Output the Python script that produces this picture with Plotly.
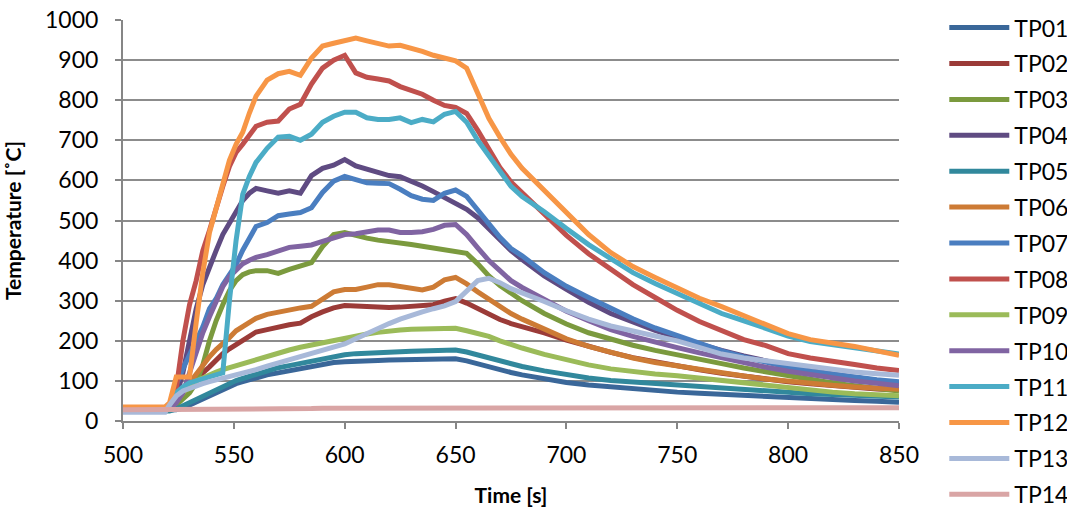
import plotly.graph_objects as go

# Sample times (s)
time_s = [500, 519, 521, 524, 527, 530, 533, 536, 539, 542,
          545, 548, 551, 554, 557, 560, 565, 570, 575, 580,
          585, 590, 595, 600, 605, 610, 615, 620, 625, 630,
          635, 640, 645, 650, 655, 660, 665, 670, 675, 680,
          690, 700, 710, 720, 730, 740, 750, 760, 770, 780,
          790, 800, 810, 820, 830, 840, 850]

# Thermocouple readings (degC)
tp01 = [25, 25, 25, 28, 32, 40, 48, 56, 64, 72,
        80, 87, 93, 98, 103, 108, 115, 120, 125, 132,
        138, 143, 146, 148, 148, 150, 151, 152, 152, 153,
        153, 153, 154, 155, 150, 142, 136, 128, 121, 115,
        105, 96, 90, 85, 80, 76, 72, 69, 66, 63,
        60, 57, 55, 53, 51, 49, 47]
tp02 = [30, 30, 32, 45, 60, 80, 100, 120, 135, 152,
        168, 180, 190, 200, 210, 222, 228, 235, 240, 244,
        260, 272, 282, 288, 286, 284, 283, 283, 284, 285,
        286, 290, 299, 305, 294, 280, 265, 253, 243, 236,
        220, 202, 186, 171, 158, 147, 138, 128, 119, 111,
        104, 98, 93, 88, 84, 80, 77]
tp03 = [25, 25, 28, 40, 55, 70, 95, 140, 200, 250,
        290, 325, 350, 365, 372, 375, 375, 368, 378, 385,
        395, 435, 465, 470, 462, 456, 451, 448, 446, 440,
        436, 432, 426, 424, 418, 392, 362, 338, 318, 300,
        268, 242, 220, 203, 189, 176, 166, 154, 143, 132,
        122, 112, 103, 95, 88, 81, 75]
tp04 = [25, 25, 30, 60, 120, 200, 280, 340, 385, 425,
        465, 492, 520, 550, 568, 580, 574, 568, 574, 568,
        612, 630, 638, 652, 636, 628, 618, 612, 609, 598,
        586, 572, 558, 545, 528, 507, 479, 452, 425, 403,
        362, 328, 296, 268, 246, 226, 208, 191, 176, 162,
        149, 137, 126, 117, 108, 100, 93]
tp05 = [25, 25, 25, 30, 38, 46, 55, 63, 72, 80,
        88, 95, 101, 106, 111, 116, 125, 133, 138, 144,
        150, 155, 160, 165, 168, 170, 171, 172, 173, 174,
        175, 174, 175, 177, 172, 165, 157, 150, 142, 136,
        125, 115, 107, 101, 97, 94, 91, 87, 82, 78,
        74, 71, 68, 66, 64, 62, 60]
tp06 = [30, 30, 32, 50, 70, 95, 118, 140, 160, 178,
        192, 208, 225, 236, 246, 256, 266, 272, 278, 282,
        286, 305, 322, 328, 328, 334, 340, 340, 336, 330,
        327, 334, 352, 358, 342, 322, 304, 286, 268, 254,
        229, 205, 186, 171, 157, 146, 137, 128, 120, 112,
        105, 99, 94, 89, 85, 82, 79]
tp07 = [25, 25, 40, 90, 130, 165, 200, 235, 280, 305,
        340, 365, 390, 426, 458, 485, 495, 512, 516, 520,
        532, 570, 598, 610, 602, 594, 593, 592, 578, 562,
        553, 550, 568, 576, 560, 525, 490, 458, 430, 412,
        370, 336, 308, 280, 255, 232, 212, 193, 175, 160,
        146, 134, 124, 116, 109, 103, 98]
tp08 = [30, 30, 35, 80, 200, 290, 350, 425, 475, 535,
        585, 635, 670, 690, 715, 735, 745, 748, 778, 790,
        840, 880, 900, 912, 868, 857, 853, 848, 834, 826,
        815, 800, 787, 782, 767, 725, 676, 632, 596, 570,
        515, 463, 417, 377, 340, 308, 276, 248, 224, 203,
        188, 168, 157, 150, 141, 132, 126]
tp09 = [25, 25, 30, 50, 70, 90, 100, 108, 115, 122,
        128, 133, 138, 144, 150, 155, 162, 170, 177, 184,
        190, 196, 201, 206, 212, 217, 221, 225, 227, 229,
        230, 230, 231, 231, 225, 218, 211, 200, 190, 182,
        166, 152, 140, 130, 122, 117, 113, 107, 100, 93,
        87, 81, 76, 72, 68, 65, 63]
tp10 = [25, 25, 30, 45, 70, 120, 170, 220, 260, 300,
        335, 360, 377, 392, 401, 408, 415, 425, 433, 436,
        439, 448, 458, 465, 467, 472, 476, 476, 470, 470,
        472, 478, 488, 490, 465, 432, 400, 375, 350, 333,
        302, 274, 250, 228, 211, 196, 183, 170, 157, 145,
        134, 124, 115, 107, 100, 94, 88]
tp11 = [25, 25, 40, 70, 85, 95, 100, 105, 108, 112,
        120, 300, 450, 565, 610, 645, 680, 708, 710, 700,
        715, 745, 760, 770, 770, 756, 752, 752, 756, 744,
        752, 746, 765, 772, 745, 700, 660, 620, 585, 560,
        522, 480, 440, 405, 370, 343, 317, 292, 268, 250,
        230, 212, 198, 190, 182, 173, 167]
tp12 = [35, 35, 45, 110, 110, 110, 245, 370, 470, 530,
        590, 650, 690, 720, 768, 810, 850, 866, 872, 862,
        905, 935, 942, 950, 955, 948, 940, 935, 937, 930,
        922, 912, 905, 898, 880, 820, 755, 708, 665, 630,
        575, 518, 465, 420, 385, 358, 332, 306, 285, 262,
        238, 218, 203, 196, 186, 175, 164]
tp13 = [22, 22, 40, 62, 75, 82, 88, 93, 98, 102,
        106, 109, 113, 118, 123, 128, 137, 145, 152, 160,
        168, 177, 184, 192, 205, 218, 232, 243, 254, 264,
        272, 280, 287, 298, 325, 350, 356, 345, 330, 320,
        298, 275, 254, 237, 223, 212, 200, 183, 167, 157,
        150, 140, 133, 127, 122, 118, 114]
tp14 = [28, 28, 28, 29, 29, 29, 30, 30, 30, 30,
        30, 30, 30, 30, 30, 31, 31, 31, 31, 31,
        31, 32, 32, 32, 32, 32, 33, 33, 33, 33,
        34, 34, 34, 35, 35, 35, 35, 35, 35, 35,
        34, 34, 34, 34, 33, 33, 33, 33, 32, 32,
        32, 32, 32, 32, 33, 33, 33]

names = ["TP01", "TP02", "TP03", "TP04", "TP05", "TP06", "TP07",
         "TP08", "TP09", "TP10", "TP11", "TP12", "TP13", "TP14"]
series = [tp01, tp02, tp03, tp04, tp05, tp06, tp07,
          tp08, tp09, tp10, tp11, tp12, tp13, tp14]
colors = ["#3A6799", "#9B3B38", "#7B9A3E", "#5F4B82", "#31889C", "#CD7B35", "#4A7EC0",
          "#C0504D", "#9BBB59", "#8064A2", "#4BACC6", "#F79646", "#A8B9D9", "#D9A5A5"]

FONT = "Lato"
TICK_SIZE = 23

fig = go.Figure()
for name, vals, col in zip(names, series, colors):
    fig.add_trace(go.Scatter(
        x=time_s, y=vals, name=name, mode="lines", legendgroup=name,
        line=dict(color=col, width=5),
    ))

fig.update_layout(
    width=1067, height=511,
    margin=dict(l=123, r=168, t=20, b=90, autoexpand=False),
    paper_bgcolor="white", plot_bgcolor="white",
    font=dict(family=FONT, size=TICK_SIZE, color="black"),
    showlegend=True,
    legend=dict(
        xref="container", x=0.885, xanchor="left",
        yref="container", y=0.988, yanchor="top",
        font=dict(family=FONT, size=TICK_SIZE, color="black"),
        tracegroupgap=3, itemwidth=60, maxheight=700,
        bgcolor="rgba(0,0,0,0)",
    ),
    xaxis=dict(
        range=[500, 850], tickvals=[500, 550, 600, 650, 700, 750, 800, 850],
        showgrid=False, zeroline=False, automargin=False,
        showline=True, linecolor="#868686", linewidth=2,
        ticks="outside", ticklen=6, tickcolor="#868686", tickwidth=2,
        ticklabelstandoff=6,
        tickfont=dict(family=FONT, size=TICK_SIZE),
        title=dict(text="<b>Time [s]</b>", font=dict(family=FONT, size=21), standoff=22),
    ),
    yaxis=dict(
        range=[0, 1000], dtick=100,
        showgrid=True, gridcolor="#8C8C8C", gridwidth=2,
        zeroline=False, automargin=False,
        showline=True, linecolor="#868686", linewidth=2,
        ticks="outside", ticklen=6, tickcolor="#868686", tickwidth=2,
        ticklabelstandoff=12,
        tickfont=dict(family=FONT, size=TICK_SIZE),
        title=dict(text="<b>Temperature [˚C]</b>", font=dict(family=FONT, size=21), standoff=22),
    ),
)

fig.write_html("out.html")
